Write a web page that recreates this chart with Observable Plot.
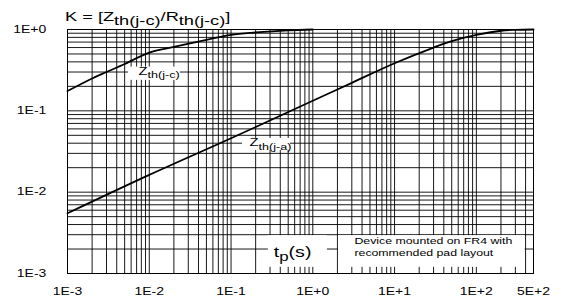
<!DOCTYPE html>
<html><head><meta charset="utf-8">
<script src="https://cdn.jsdelivr.net/npm/d3@7"></script>
<script src="https://cdn.jsdelivr.net/npm/@observablehq/plot@0.6"></script>
<style>
body{margin:0;background:#fff;}
#wrap{position:relative;width:566px;height:304px;font-family:"Liberation Sans",Arial,sans-serif;}
#title{position:absolute;left:65px;top:10px;font-size:13px;transform:scaleX(1.4);transform-origin:0 0;white-space:nowrap;line-height:1;z-index:2;}
#title sub{font-size:13px;vertical-align:-4px;line-height:0;}
#chart{position:absolute;left:0;top:0;}
</style></head><body>
<div id="wrap"><div id="title">K = [Z<sub>th(j-c)</sub>/R<sub>th(j-c)</sub>]</div><div id="chart"></div></div>
<script>
// Data
const tpJC = [1e-3, 2e-3, 3e-3, 5e-3, 1e-2, 2e-2, 5e-2, 1e-1, 2e-1, 5e-1, 1];
const kJC  = [0.175, 0.25, 0.30, 0.376, 0.52, 0.61, 0.745, 0.86, 0.92, 0.977, 1.0];
const tpJA = [1e-3, 1e-2, 1e-1, 1, 3, 10, 30, 50, 100, 200, 300, 500];
const kJA  = [0.0055, 0.0163, 0.046, 0.133, 0.221, 0.385, 0.60, 0.72, 0.86, 0.965, 0.99, 1.0];
const xTicks = [1e-3, 1e-2, 1e-1, 1, 10, 100, 500];
const xTickLabels = ["1E-3", "1E-2", "1E-1", "1E+0", "1E+1", "1E+2", "5E+2"];
const yTicks = [1e-3, 1e-2, 1e-1, 1];
const yTickLabels = ["1E-3", "1E-2", "1E-1", "1E+0"];
const seriesNames = ["Z_{th(j-c)}", "Z_{th(j-a)}"];
const axisName = "t_{p}(s)";
const noteText = "Device mounted on FR4 with\nrecommended pad layout";

// Annotation anchors (data units)
const labelJC = {x: 0.00738, y: 0.303};
const labelJA = {x: 0.168, y: 0.0401};
const labelTp = {x: 0.333, y: 0.00181};
const labelNote = {x: 3.23, y: 0.00215};
const boxes = [
  {x1: 0.00557, x2: 0.024, y1: 0.237, y2: 0.345},
  {x1: 0.138, x2: 0.532, y1: 0.0326, y2: 0.0458},
  {x1: 0.286, x2: 1.51, y1: 0.00119, y2: 0.00292},
  {x1: 2.06, x2: 395, y1: 0.00119, y2: 0.00292}
];

const xGrid = [];
for (let e = -3; e <= 2; e++) for (let m = 1; m <= 9; m++) { const v = m * Math.pow(10, e); if (v <= 500.0001) xGrid.push(v); }
const yGrid = [];
for (let e = -3; e <= -1; e++) for (let m = 1; m <= 9; m++) yGrid.push(m * Math.pow(10, e));
yGrid.push(1);

const jc = tpJC.map((t, i) => ({t, k: kJC[i]}));
const ja = tpJA.map((t, i) => ({t, k: kJA[i]}));
const SX = 1.4;

const svg = Plot.plot({
  width: 566, height: 304,
  marginLeft: 67, marginRight: 33, marginTop: 29, marginBottom: 31,
  style: {fontFamily: '"Liberation Sans", Arial, sans-serif', color: "#000", background: "transparent", overflow: "visible"},
  x: {type: "log", domain: [1e-3, 500], axis: null},
  y: {type: "log", domain: [1e-3, 1], axis: null},
  marks: [
    Plot.ruleX(xGrid, {stroke: "#000", strokeOpacity: 0.9, strokeWidth: 1}),
    Plot.ruleY(yGrid, {stroke: "#000", strokeOpacity: 0.9, strokeWidth: 1}),
    Plot.rect(boxes, {x1: "x1", x2: "x2", y1: "y1", y2: "y2", fill: "white"}),
    Plot.line(jc, {x: "t", y: "k", stroke: "#000", strokeWidth: 1.8, curve: "catmull-rom"}),
    Plot.line(ja, {x: "t", y: "k", stroke: "#000", strokeWidth: 1.8, curve: "catmull-rom"}),
    Plot.frame({stroke: "#000", strokeWidth: 1}),
    Plot.text([labelJC], {x: "x", y: "y", text: () => seriesNames[0], textAnchor: "start", fontSize: 10.5, fill: "#000"}),
    Plot.text([labelJA], {x: "x", y: "y", text: () => seriesNames[1], textAnchor: "start", fontSize: 10.5, fill: "#000"}),
    Plot.text([labelTp], {x: "x", y: "y", text: () => axisName, textAnchor: "start", fontSize: 14, fill: "#000"}),
    Plot.text([labelNote], {x: "x", y: "y", text: () => noteText, textAnchor: "start", fontSize: 8.8, lineHeight: 1.36, fill: "#000"}),
    Plot.text(xTicks, {x: d => d, text: (d, i) => xTickLabels[i], frameAnchor: "bottom", lineAnchor: "top", dy: 14, fontSize: 10, fill: "#000"}),
    Plot.text(yTicks, {y: d => d, text: (d, i) => yTickLabels[i], frameAnchor: "left", textAnchor: "end", dx: -21, fontSize: 10, fill: "#000"})
  ]
});
document.getElementById("chart").append(svg);

const NS = "http://www.w3.org/2000/svg";
// subscripts
Array.from(svg.querySelectorAll("text")).forEach(t => {
  if (t.querySelector("tspan")) return;
  const s = t.textContent;
  if (!s.includes("_{")) return;
  const fs = parseFloat(getComputedStyle(t).fontSize) || 10;
  const parts = s.split(/(_\{[^}]*\})/).filter(p => p.length);
  t.textContent = "";
  let shifted = 0;
  for (const p of parts) {
    const ts = document.createElementNS(NS, "tspan");
    if (p.startsWith("_{")) {
      ts.textContent = p.slice(2, -1);
      ts.setAttribute("font-size", fs * 0.86);
      ts.setAttribute("dy", fs * 0.3);
      shifted += fs * 0.3;
    } else {
      ts.textContent = p;
      if (shifted) { ts.setAttribute("dy", -shifted); shifted = 0; }
    }
    t.appendChild(ts);
  }
});
// horizontal stretch of lettering, around each text's anchor point
Array.from(svg.querySelectorAll("text")).forEach(t => {
  const bb = t.getBBox();
  const anchor = getComputedStyle(t).textAnchor;
  let ax = anchor === "end" ? bb.x + bb.width : anchor === "middle" ? bb.x + bb.width / 2 : bb.x;
  const list = t.transform && t.transform.baseVal;
  if (list && list.numberOfItems) {
    const m = list.consolidate().matrix;
    ax = m.a * ax + m.e;
  }
  const g = document.createElementNS(NS, "g");
  g.setAttribute("transform", `translate(${ax},0) scale(${SX},1) translate(${-ax},0)`);
  t.parentNode.insertBefore(g, t);
  g.appendChild(t);
});
</script>
</body></html>
